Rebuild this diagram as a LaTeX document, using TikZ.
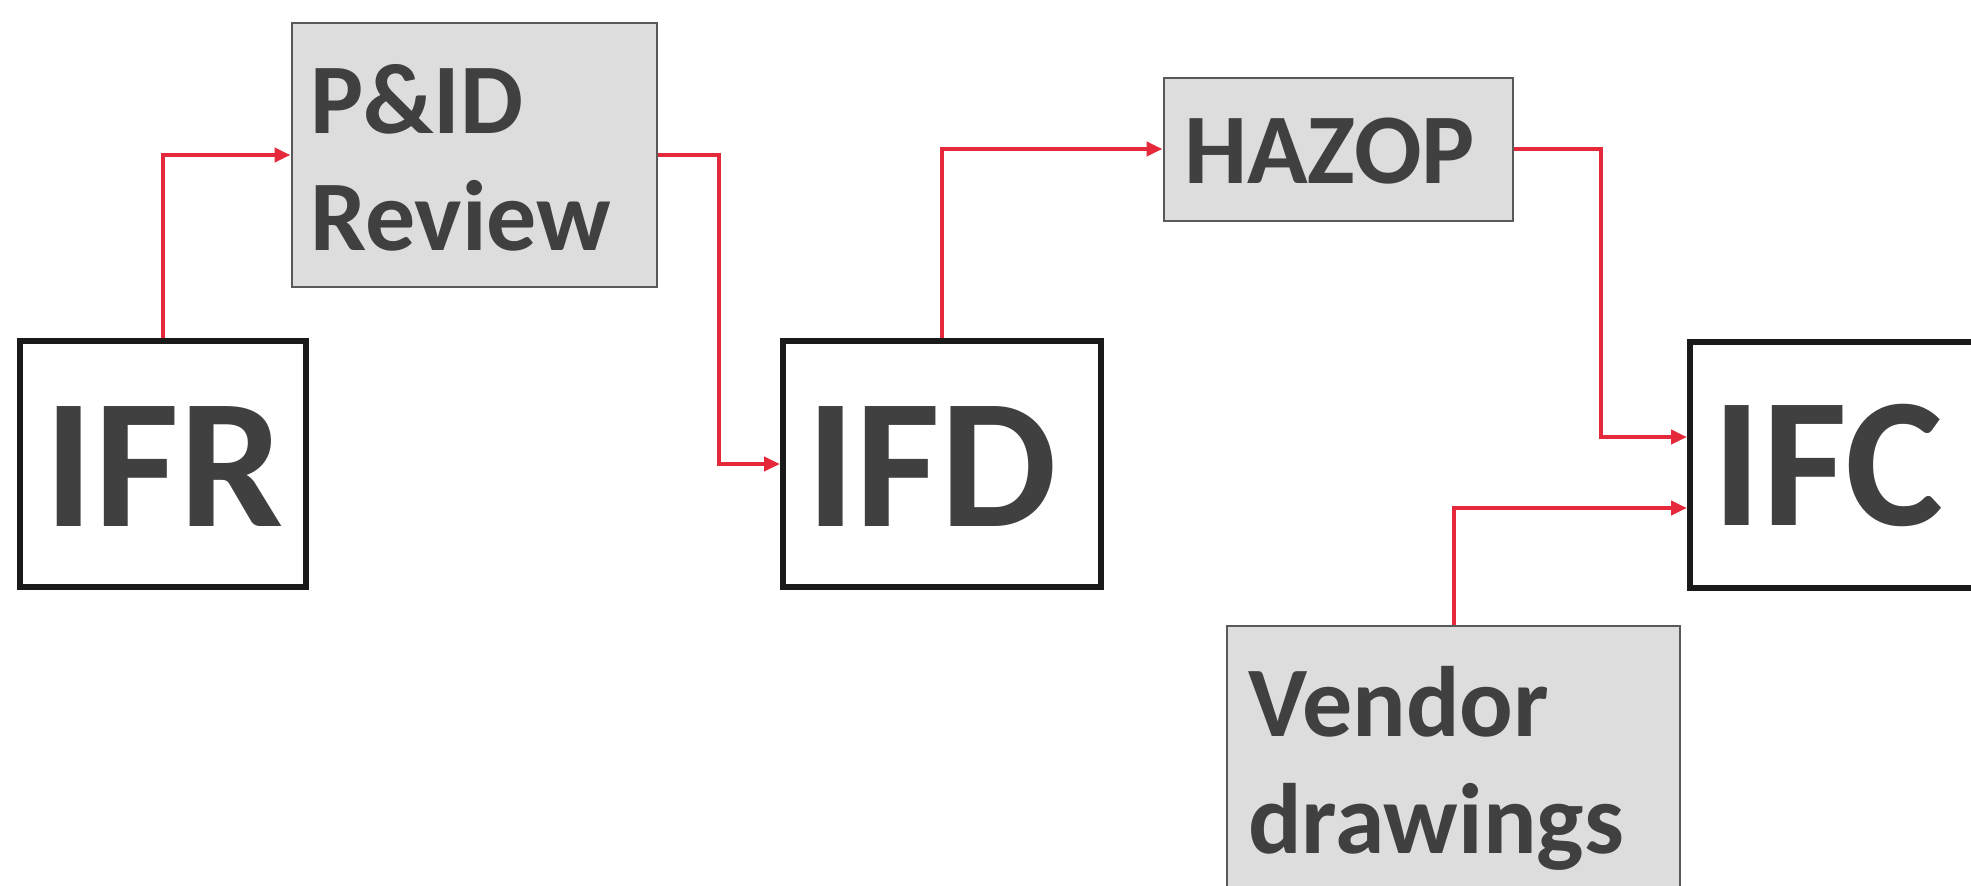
\documentclass[tikz,border=0pt]{standalone}
\usepackage{fontspec}
\setmainfont{Carlito}
\usetikzlibrary{arrows.meta}
\definecolor{txt}{HTML}{404040}
\definecolor{grayfill}{HTML}{DDDDDD}
\definecolor{grayline}{HTML}{595959}
\definecolor{boxblack}{HTML}{1A1A1A}
\definecolor{arrred}{HTML}{E5283A}
\begin{document}
\begin{tikzpicture}[x=1pt,y=-1pt,
  mainbox/.style={draw=boxblack, line width=6pt, fill=white, inner sep=0pt, rectangle},
  subbox/.style={draw=grayline, line width=2pt, fill=grayfill, inner sep=0pt, rectangle},
  flow/.style={draw=arrred, line width=4pt, -{Triangle[length=16pt,width=14pt]}},
  bigtxt/.style={text=txt, font=\fontsize{185}{185}\selectfont\bfseries, inner sep=0pt},
  smalltxt/.style={text=txt, font=\fontsize{100}{117}\selectfont\bfseries, inner sep=0pt, align=left}]
\useasboundingbox (0,0) rectangle (1971,886);
\clip (0,0) rectangle (1971,886);
\fill[white] (0,0) rectangle (1971,886);

% main boxes
\node[mainbox, minimum width=286pt, minimum height=246pt] (ifr) at (163,464) {};
\node[mainbox, minimum width=318pt, minimum height=246pt] (ifd) at (942,464) {};
\node[mainbox, minimum width=300pt, minimum height=246pt] (ifc) at (1840,465) {};
\node[bigtxt, anchor=base] (ifrt) at (164,526) {IFR};
\node[bigtxt, anchor=base] (ifdt) at (932,526) {IFD};
\node[bigtxt, anchor=base] (ifct) at (1828,525) {IFC};

% grey boxes
\node[subbox, minimum width=365pt, minimum height=264pt] (pid) at (474,155) {};
\node[subbox, minimum width=349pt, minimum height=143pt] (hazop) at (1338,149) {};
\node[subbox, minimum width=453pt, minimum height=320pt] (vendor) at (1453.5,786) {};
\node[smalltxt, anchor=north west] (pidt) at (310,64) {P\&ID\\Review};
\node[smalltxt, anchor=base west] (hazopt) at (1184,183) {HAZOP};
\node[smalltxt, anchor=north west] (vendort) at (1248,666) {Vendor\\drawings};

% connectors
\draw[flow] (ifr.north) |- (pid.west);
\draw[flow] (pid.east) -- ++(61,0) |- (ifd.west);
\draw[flow] (ifd.north) |- (hazop.west);
\draw[flow] (hazop.east) -- ++(87,0) |- ([yshift=28pt]ifc.west);
\draw[flow] (vendor.north) |- ([yshift=-43pt]ifc.west);
\end{tikzpicture}
\end{document}
